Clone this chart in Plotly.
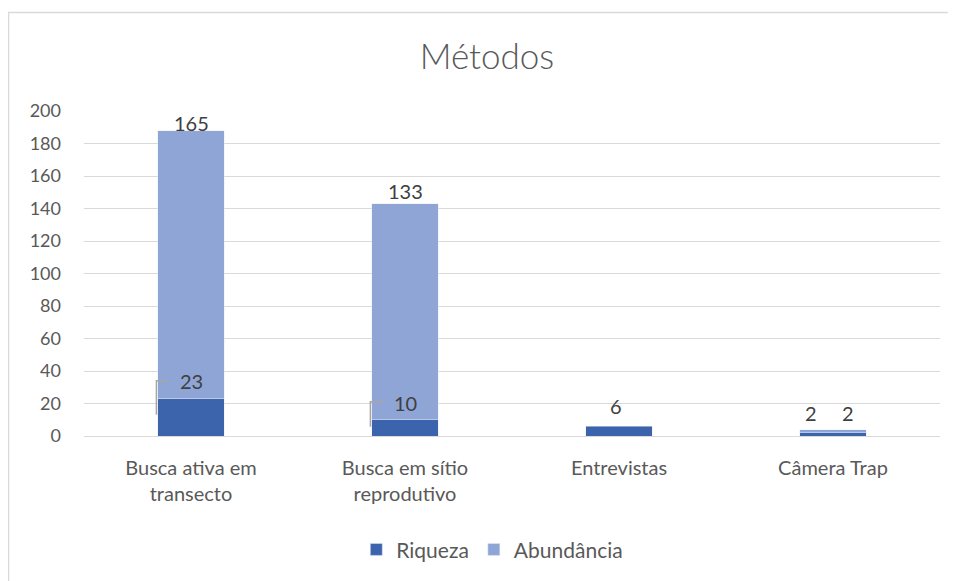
import plotly.graph_objects as go

categories = ["Busca ativa em<br>transecto", "Busca em sítio<br>reprodutivo", "Entrevistas", "Câmera Trap"]
riqueza = [23, 10, 6, 2]
abundancia = [165, 133, None, 2]

DARK = "#3C64AD"
LIGHT = "#8FA5D6"
TEXT = "#404040"
FONT = "Lato"

# label offsets in pixels (xshift, yshift) as moved in the original
riq_offsets = [(0, 18), (0, 17), (-3, 20), (-22, 20)]
abu_offsets = [(0, 8), (0, 13), (0, 0), (15, 17)]

fig = go.Figure()
fig.add_trace(go.Bar(x=categories, y=riqueza, name="Riqueza", marker_color=DARK))
fig.add_trace(go.Bar(x=categories, y=abundancia, name="Abundância", marker_color=LIGHT))

annotations = []
shapes = []
half = 0.157
for i, cat in enumerate(categories):
    r = riqueza[i]
    dx, dy = riq_offsets[i]
    annotations.append(dict(x=cat, y=r, text=str(r), showarrow=False, xshift=dx, yshift=dy,
                            font=dict(size=20, color=TEXT, family=FONT)))
    a = abundancia[i]
    if a is not None:
        dx, dy = abu_offsets[i]
        annotations.append(dict(x=cat, y=r + a, text=str(a), showarrow=False, xshift=dx, yshift=dy,
                                font=dict(size=20, color=TEXT, family=FONT)))

# leader lines for the moved labels of the first two bars
leaders = [(-16, 18, 12), (-7, 18, 12)]
for i, (y0, y1, w) in enumerate(leaders):
    shapes.append(dict(type="path", xref="x", yref="y", xsizemode="pixel", ysizemode="pixel",
                       xanchor=i - half, yanchor=riqueza[i],
                       path=f"M -1,{y0} L -1,{y1} L {w},{y1}",
                       line=dict(color="#A6A6A6", width=1.5)))

# chart outer border
shapes.append(dict(type="rect", xref="paper", yref="paper", x0=-0.0882, x1=1.2, y0=-0.6, y1=1.303,
                   line=dict(color="#D9D9D9", width=1.5), layer="below"))

# the page body adds an 8px offset, so margins are reduced by 8 on top/left
fig.update_layout(
    barmode="stack",
    bargap=0.69,
    width=956, height=581,
    margin=dict(l=76, r=24, t=103, b=153),
    paper_bgcolor="white", plot_bgcolor="white",
    font=dict(family=FONT, color="#595959", size=18),
    title=dict(text="Métodos", x=0.501, xanchor="center", y=1 - 49 / 581, yanchor="middle",
               yref="container", font=dict(size=35, color="#595959", family=FONT, weight=300)),
    legend=dict(orientation="h", x=0.477, xanchor="center", y=-0.35, yanchor="middle",
                font=dict(size=21, color="#595959"), traceorder="normal"),
    annotations=annotations,
    shapes=shapes,
)
fig.update_yaxes(range=[0, 200], dtick=20, gridcolor="#D9D9D9", gridwidth=1, zeroline=False,
                 showline=False, tickfont=dict(size=18, color="#595959"), ticklabelstandoff=22)
fig.update_xaxes(showline=True, linecolor="#D9D9D9", linewidth=1, ticks="",
                 tickfont=dict(size=20, color="#595959"), ticklabelstandoff=14)

fig.write_html("out.html")
